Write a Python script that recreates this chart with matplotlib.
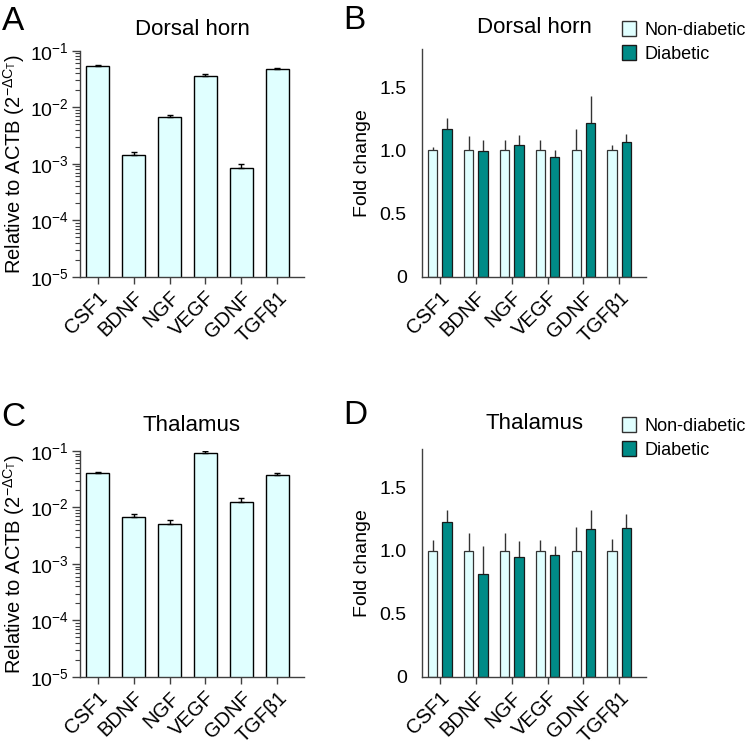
import numpy as np
import matplotlib
matplotlib.use("Agg")
import matplotlib.pyplot as plt
from matplotlib.patches import Patch

plt.rcParams['font.family'] = ['Liberation Sans', 'DejaVu Sans']
plt.rcParams['mathtext.fontset'] = 'custom'
plt.rcParams['mathtext.rm'] = 'Liberation Sans'
plt.rcParams['mathtext.it'] = 'Liberation Sans'
plt.rcParams['mathtext.bf'] = 'Liberation Sans'

# --- data ---
genes = ['CSF1', 'BDNF', 'NGF', 'VEGF', 'GDNF', 'TGF\u03b21']

# relative expression (2^-dCt)
dh_rel = [0.054, 0.00145, 0.0068, 0.036, 0.00085, 0.048]
dh_rel_err = [0.001, 0.00015, 0.0006, 0.0025, 0.00012, 0.0015]
th_rel = [0.040, 0.0067, 0.0052, 0.092, 0.0125, 0.038]
th_rel_err = [0.002, 0.001, 0.0007, 0.006, 0.0025, 0.002]

# fold change, dorsal horn
dh_non = [1.0, 1.0, 1.0, 1.0, 1.0, 1.0]
dh_non_err = [0.03, 0.11, 0.085, 0.08, 0.17, 0.04]
dh_dia = [1.168, 0.992, 1.04, 0.945, 1.22, 1.063]
dh_dia_err = [0.09, 0.09, 0.085, 0.055, 0.21, 0.063]

# fold change, thalamus
th_non = [1.0, 1.0, 1.0, 1.0, 1.0, 1.0]
th_non_err = [0.08, 0.14, 0.14, 0.085, 0.19, 0.09]
th_dia = [1.226, 0.813, 0.953, 0.968, 1.168, 1.176]
th_dia_err = [0.095, 0.22, 0.126, 0.07, 0.15, 0.11]

light = '#E0FFFF'
teal = '#008B87'
spine_col = '#404040'

fig = plt.figure(figsize=(7.47, 7.46), dpi=100)

x = np.arange(len(genes))


def style_axes(ax):
    for s in ['top', 'right']:
        ax.spines[s].set_visible(False)
    for s in ['left', 'bottom']:
        ax.spines[s].set_color(spine_col)
        ax.spines[s].set_linewidth(1.0)
    ax.set_xlim(-0.5, 5.75)
    ax.set_xticks(x)
    ax.set_xticklabels(genes, rotation=45, ha='right', rotation_mode='anchor', fontsize=14.5)
    ax.tick_params(axis='x', length=5, width=1, color=spine_col, pad=3)
    ax.tick_params(axis='y', labelsize=14, color=spine_col)


def rel_panel(rect, vals, errs, title, letter, ty):
    ax = fig.add_axes(rect)
    ax.bar(x, vals, width=0.64, color=light, edgecolor='black', linewidth=1.0,
           bottom=0, zorder=2)
    ax.errorbar(x, vals, yerr=[np.zeros(len(vals)), errs], fmt='none',
                ecolor='black', elinewidth=1.0, capsize=2, zorder=3)
    ax.set_yscale('log')
    ax.set_ylim(1e-5, 1e-1)
    ax.set_yticks([1e-5, 1e-4, 1e-3, 1e-2, 1e-1])
    ax.set_yticklabels([r'$10^{-5}$', r'$10^{-4}$', r'$10^{-3}$', r'$10^{-2}$', r'$10^{-1}$'])
    ax.tick_params(axis='y', which='major', length=6, width=1, pad=2)
    ax.tick_params(axis='y', which='minor', length=3.5, width=0.8, color=spine_col)
    style_axes(ax)
    ax.set_ylabel(r'Relative to ACTB (2$^{-\Delta C_T}$)', fontsize=14.5)
    ax.yaxis.set_label_coords(-0.235, 0.5)
    ax.set_title(title, fontsize=16, y=ty, pad=0)
    ax.text(-0.35, ty - 0.01, letter, transform=ax.transAxes, fontsize=24, va='bottom', ha='left')
    return ax


def fold_panel(rect, non, non_err, dia, dia_err, title, letter, ty):
    ax = fig.add_axes(rect)
    w = 0.26
    off = 0.2
    ax.bar(x - off, non, width=w, color=light, edgecolor='#333333', linewidth=0.9, zorder=2)
    ax.bar(x + off, dia, width=w, color=teal, edgecolor='#1a1a1a', linewidth=0.9, zorder=2)
    ax.errorbar(x - off, non, yerr=[np.zeros(6), non_err], fmt='none',
                ecolor='#333333', elinewidth=1.0, capsize=0, zorder=1)
    ax.errorbar(x + off, dia, yerr=[np.zeros(6), dia_err], fmt='none',
                ecolor='#333333', elinewidth=1.0, capsize=0, zorder=1)
    ax.set_ylim(0, 1.8)
    ax.set_yticks([0, 0.5, 1.0, 1.5])
    ax.set_yticklabels(['0', '0.5', '1.0', '1.5'])
    ax.tick_params(axis='y', length=0, pad=11)
    style_axes(ax)
    ax.set_ylabel('Fold change', fontsize=14, labelpad=6)
    ax.set_title(title, fontsize=16, y=ty, pad=0)
    ax.text(-0.35, ty - 0.01, letter, transform=ax.transAxes, fontsize=24, va='bottom', ha='left')
    handles = [Patch(facecolor=light, edgecolor='#333333', label='Non-diabetic'),
               Patch(facecolor=teal, edgecolor='#1a1a1a', label='Diabetic')]
    ax.legend(handles=handles, loc='upper left', bbox_to_anchor=(0.86, ty + 0.085),
              frameon=False, fontsize=13, handlelength=0.75, handleheight=0.9,
              handletextpad=0.5, labelspacing=0.35, borderaxespad=0)
    return ax


rel_panel([0.107, 0.629, 0.300, 0.303], dh_rel, dh_rel_err, 'Dorsal horn', 'A', 1.07)
fold_panel([0.565, 0.629, 0.300, 0.305], dh_non, dh_non_err, dh_dia, dh_dia_err, 'Dorsal horn', 'B', 1.07)
rel_panel([0.107, 0.0925, 0.300, 0.303], th_rel, th_rel_err, 'Thalamus', 'C', 1.09)
fold_panel([0.565, 0.0925, 0.300, 0.305], th_non, th_non_err, th_dia, th_dia_err, 'Thalamus', 'D', 1.09)

fig.savefig('out.png', dpi=100)
